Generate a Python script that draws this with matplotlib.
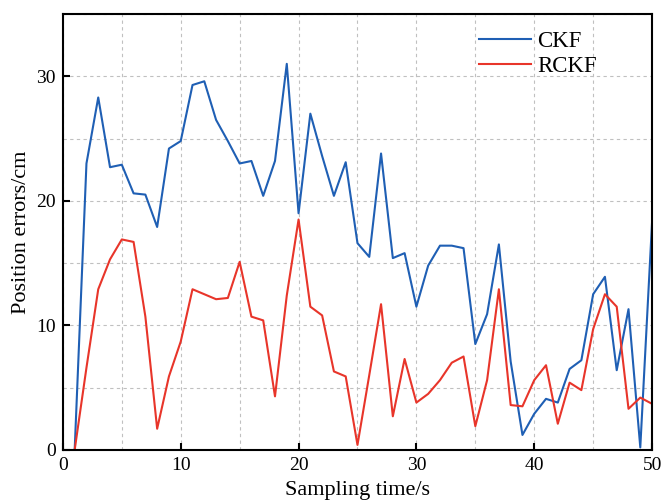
import matplotlib.pyplot as plt
import numpy as np
from matplotlib.ticker import MultipleLocator

plt.rcParams['font.family'] = ['Liberation Serif', 'DejaVu Serif']

t = np.arange(1, 51)

ckf = [0.0, 23.0, 28.3, 22.7, 22.9, 20.6, 20.5, 17.9, 24.2, 24.8,
       29.3, 29.6, 26.5, 24.8, 23.0, 23.2, 20.4, 23.2, 31.0, 19.0,
       27.0, 23.6, 20.4, 23.1, 16.6, 15.5, 23.8, 15.4, 15.8, 11.5,
       14.8, 16.4, 16.4, 16.2, 8.5, 10.9, 16.5, 7.1, 1.2, 2.9,
       4.1, 3.8, 6.5, 7.2, 12.5, 13.9, 6.4, 11.3, 0.2, 18.3]

rckf = [0.0, 6.6, 12.9, 15.3, 16.9, 16.7, 10.7, 1.7, 5.9, 8.7,
        12.9, 12.5, 12.1, 12.2, 15.1, 10.7, 10.4, 4.3, 12.4, 18.5,
        11.5, 10.8, 6.3, 5.9, 0.4, 6.0, 11.7, 2.7, 7.3, 3.8,
        4.5, 5.6, 7.0, 7.5, 1.9, 5.6, 12.9, 3.6, 3.5, 5.6,
        6.8, 2.1, 5.4, 4.8, 9.7, 12.5, 11.5, 3.3, 4.2, 3.7]

fig = plt.figure(figsize=(6.62, 5.01), dpi=100)
ax = fig.add_axes([0.095, 0.102, 0.89, 0.870])

ax.plot(t, ckf, color='#1f5fb4', lw=1.5, label='CKF')
ax.plot(t, rckf, color='#e8352a', lw=1.5, label='RCKF')

ax.set_xlim(0, 50)
ax.set_ylim(0, 35)
ax.xaxis.set_major_locator(MultipleLocator(10))
ax.xaxis.set_minor_locator(MultipleLocator(5))
ax.yaxis.set_major_locator(MultipleLocator(10))
ax.yaxis.set_minor_locator(MultipleLocator(5))

ax.grid(True, which='both', color='#c0c0c0', ls=(0, (3, 3)), lw=0.8)
ax.tick_params(which='major', direction='in', length=5, width=1.5,
               labelsize=14, top=False, right=False, pad=5)
ax.tick_params(which='minor', length=0)
for sp in ax.spines.values():
    sp.set_linewidth(1.5)

ax.set_xlabel('Sampling time/s', fontsize=16, labelpad=5)
ax.set_ylabel('Position errors/cm', fontsize=16, labelpad=4)

ax.legend(loc='upper right', bbox_to_anchor=(0.935, 1.0), frameon=False,
          fontsize=16.5, handlelength=2.3, handletextpad=0.25,
          labelspacing=0.15, borderaxespad=0.35)

fig.savefig('out.png', dpi=100)
